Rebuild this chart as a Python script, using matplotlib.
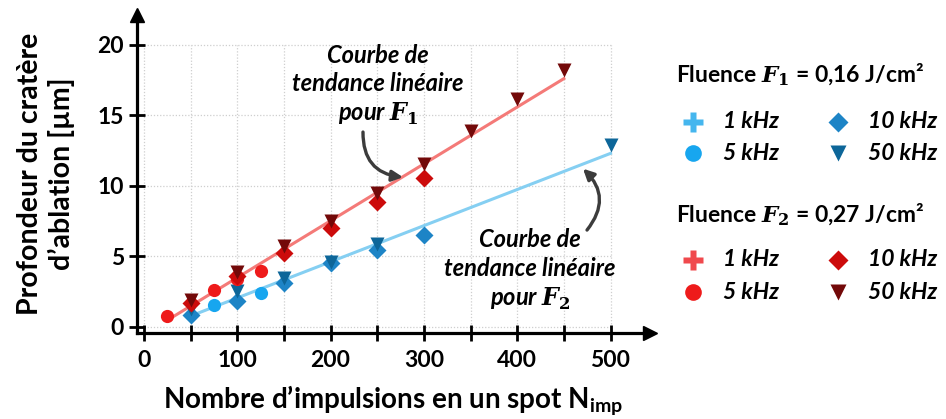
import numpy as np
import matplotlib
matplotlib.use("Agg")
import matplotlib.pyplot as plt
from matplotlib.lines import Line2D

plt.rcParams["font.family"] = ["Lato", "DejaVu Sans"]
plt.rcParams["font.weight"] = "bold"
plt.rcParams["mathtext.fontset"] = "custom"
plt.rcParams["mathtext.rm"] = "Lato:bold"
plt.rcParams["mathtext.bf"] = "DejaVu Serif:bold"
plt.rcParams["mathtext.bfit"] = "DejaVu Serif:bold:italic"

# ---- data: crater depth (µm) vs number of pulses per spot ----
# Fluence F1 = 0.16 J/cm²
f1_5k_x = [75, 125]
f1_5k_y = [1.54, 2.42]
f1_10k_x = [50, 100, 150, 200, 250, 300]
f1_10k_y = [0.83, 1.80, 3.12, 4.50, 5.45, 6.51]
f1_50k_x = [50, 100, 150, 200, 250, 500]
f1_50k_y = [1.22, 2.50, 3.42, 4.62, 5.88, 12.90]

# Fluence F2 = 0.27 J/cm²
f2_5k_x = [25, 75, 100, 125]
f2_5k_y = [0.76, 2.60, 3.37, 3.98]
f2_10k_x = [50, 100, 150, 200, 250, 300]
f2_10k_y = [1.66, 3.60, 5.21, 6.99, 8.81, 10.54]
f2_50k_x = [50, 100, 150, 200, 250, 300, 350, 400, 450]
f2_50k_y = [1.92, 3.86, 5.70, 7.48, 9.48, 11.50, 13.85, 16.15, 18.18]

x_ticks = [0, 100, 200, 300, 400, 500]
y_ticks = [0, 5, 10, 15, 20]

# colours
c1 = {"1": "#45b6ee", "5": "#17a6ef", "10": "#1d84c6", "50": "#0d6699"}
c2 = {"1": "#f0494d", "5": "#ee1b1b", "10": "#cc0b0b", "50": "#730909"}
line1_col = "#85cff2"
line2_col = "#f47a78"

W, H = 946, 419
fig = plt.figure(figsize=(W / 100, H / 100), dpi=100)

def fx(px):
    return px / W

def fy(py):
    return 1 - py / H

# axes box in pixels: left 137, right 650, top 15, bottom 333
ax = fig.add_axes([fx(137), fy(333), fx(650) - fx(137), fy(15) - fy(333)])
ax.set_xlim(-7.5, 542.3)
ax.set_ylim(-0.45, 22.1)

# dotted grid limited to the 0..500 x 0..20 box
grid_x = np.arange(0, 501, 50)
grid_y = np.arange(0, 21, 5)
ax.vlines(grid_x, 0, 20, colors="#cfcfcf", linestyles=(0, (1, 1.5)), lw=0.9, zorder=0)
ax.hlines(grid_y, 0, 500, colors="#cfcfcf", linestyles=(0, (1, 1.5)), lw=0.9, zorder=0)

# linear trend lines (least squares on each fluence)
x1 = np.array(f1_5k_x + f1_10k_x + f1_50k_x, float)
y1 = np.array(f1_5k_y + f1_10k_y + f1_50k_y, float)
x2 = np.array(f2_5k_x + f2_10k_x + f2_50k_x, float)
y2 = np.array(f2_5k_y + f2_10k_y + f2_50k_y, float)
p1 = np.polyfit(x1, y1, 1)
p2 = np.polyfit(x2, y2, 1)
xx1 = np.array([x1.min(), x1.max()])
xx2 = np.array([x2.min(), x2.max()])
ax.plot(xx2, np.polyval(p2, xx2), color=line2_col, lw=2.2, zorder=2)
ax.plot(xx1, np.polyval(p1, xx1), color=line1_col, lw=2.2, zorder=2)

# markers
ax.plot(f1_5k_x, f1_5k_y, "o", color=c1["5"], ms=9.5, mec="none", zorder=3)
ax.plot(f1_10k_x, f1_10k_y, "D", color=c1["10"], ms=9, mec="none", zorder=3)
ax.plot(f1_50k_x, f1_50k_y, "v", color=c1["50"], ms=10, mec="none", zorder=3)
ax.plot(f2_5k_x, f2_5k_y, "o", color=c2["5"], ms=9.5, mec="none", zorder=3)
ax.plot(f2_10k_x, f2_10k_y, "D", color=c2["10"], ms=9, mec="none", zorder=3)
ax.plot(f2_50k_x, f2_50k_y, "v", color=c2["50"], ms=10, mec="none", zorder=3)

# axes styling: only left/bottom spines with arrow heads
for s in ("top", "right"):
    ax.spines[s].set_visible(False)
for s in ("left", "bottom"):
    ax.spines[s].set_linewidth(2.3)
    ax.spines[s].set_color("black")
ax.plot(1, 0, ">", transform=ax.transAxes, color="black", ms=10, clip_on=False)
ax.plot(0, 1, "^", transform=ax.transAxes, color="black", ms=10, clip_on=False)

ax.set_xticks(np.arange(0, 501, 50))
ax.set_xticklabels([str(v) if v in x_ticks else "" for v in np.arange(0, 501, 50)])
ax.set_yticks(y_ticks)
ax.tick_params(axis="both", direction="inout", length=11, width=2.0,
               labelsize=16.5, pad=4, colors="black")
ax.tick_params(axis="x", pad=7)
for lab in ax.get_xticklabels() + ax.get_yticklabels():
    lab.set_fontweight("bold")

ax.set_xlabel("Nombre d\u2019impulsions en un spot N$_{\\mathrm{imp}}$",
              fontsize=20, fontweight="bold", labelpad=9)
fig.text(fx(46), fy(174), "Profondeur du cratère\nd\u2019ablation [µm]",
         rotation=90, ha="center", va="center", fontsize=20.5,
         fontweight="bold", linespacing=1.2)

# trend line annotations
ax.text(250.8, 17.1, "Courbe de\ntendance linéaire\npour $\\mathbfit{F}_{\\mathbf{1}}$",
        ha="center", va="center", fontsize=17, fontweight="bold",
        style="italic", linespacing=1.3)
ax.text(413.7, 4.0, "Courbe de\ntendance linéaire\npour $\\mathbfit{F}_{\\mathbf{2}}$",
        ha="center", va="center", fontsize=17, fontweight="bold",
        style="italic", linespacing=1.3)
ax.annotate("", xy=(277.6, 10.6), xytext=(234.7, 13.8),
            arrowprops=dict(arrowstyle="-|>", color="#3c3c3c", lw=2.4,
                            mutation_scale=16, shrinkA=0, shrinkB=0,
                            connectionstyle="arc3,rad=0.45"))
ax.annotate("", xy=(470.5, 11.2), xytext=(474.8, 6.85),
            arrowprops=dict(arrowstyle="-|>", color="#3c3c3c", lw=2.4,
                            mutation_scale=16, shrinkA=0, shrinkB=0,
                            connectionstyle="arc3,rad=0.45"))

# legend block drawn in figure coordinates
def legend_group(title, cols, ty, r1, r2):
    fig.text(fx(676), fy(ty), title, ha="left", va="center",
             fontsize=16.5, fontweight="bold")
    entries = [("P", cols["1"], "1 kHz", 693, r1, 14),
               ("D", cols["10"], "10 kHz", 838, r1, 10),
               ("o", cols["5"], "5 kHz", 693, r2, 12),
               ("v", cols["50"], "50 kHz", 838, r2, 12)]
    for m, c, lab, px, py, ms in entries:
        fig.add_artist(Line2D([fx(px)], [fy(py)], marker=m, color=c, ms=ms,
                              mec="none", transform=fig.transFigure))
        fig.text(fx(px + 30), fy(py), lab, ha="left", va="center",
                 fontsize=16.5, fontweight="bold", style="italic")

legend_group("Fluence $\\mathbfit{F}_{\\mathbf{1}}$ = 0,16 J/cm²", c1, 75, 121.7, 153.5)
legend_group("Fluence $\\mathbfit{F}_{\\mathbf{2}}$ = 0,27 J/cm²", c2, 215, 260, 292)

fig.savefig("out.png", dpi=100)
